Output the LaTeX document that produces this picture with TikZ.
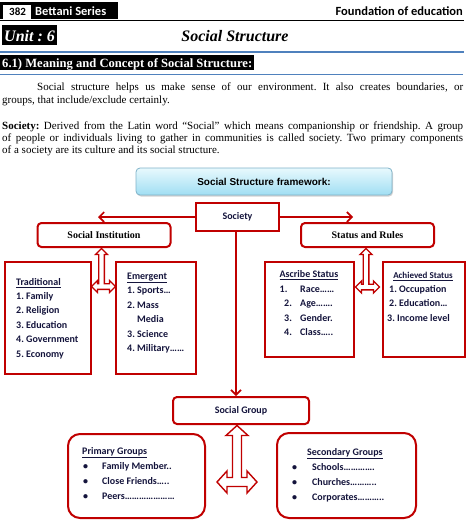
\documentclass[tikz,border=0pt]{standalone}
\usepackage{fontspec}
\setmainfont{Liberation Serif}
\newfontfamily\calib{Carlito}
\newfontfamily\arialf{Liberation Sans}
\usetikzlibrary{arrows.meta,shadows}
\definecolor{dred}{HTML}{C00000}
\definecolor{navy}{HTML}{14143C}
\definecolor{hblue}{HTML}{4F81BD}
\definecolor{fwborder}{HTML}{7FB2C8}
\definecolor{fwtop}{HTML}{E8F9FD}
\definecolor{fwbot}{HTML}{A0DEF3}
\frenchspacing
\newcommand\Tarrow[8]{% cx, ty, by, lx, rx, s, h, L
  \draw[tarrow] (#1,#2) -- ({#1+#7},{#2+#8}) -- ({#1+#6},{#2+#8}) -- ({#1+#6},{#3-#6})
   -- ({#5-#8},{#3-#6}) -- ({#5-#8},{#3-#7}) -- (#5,#3) -- ({#5-#8},{#3+#7}) -- ({#5-#8},{#3+#6})
   -- ({#4+#8},{#3+#6}) -- ({#4+#8},{#3+#7}) -- (#4,#3) -- ({#4+#8},{#3-#7}) -- ({#4+#8},{#3-#6})
   -- ({#1-#6},{#3-#6}) -- ({#1-#6},{#2+#8}) -- ({#1-#7},{#2+#8}) -- cycle;}
\begin{document}
\begin{tikzpicture}[x=1pt,y=-1pt,
  sqbox/.style={draw=dred, line width=2.6pt, inner sep=0pt},
  rbox/.style={draw=dred, line width=2pt, rounded corners=4pt, inner sep=0pt},
  txt/.style={font=\calib\bfseries\fontsize{10}{12}\selectfont, text=navy, inner sep=0pt, anchor=base west, yshift=-3.5pt},
  ctxt/.style={txt, anchor=base},
  para/.style={font=\fontsize{11}{12.5}\selectfont, inner sep=0pt, anchor=base west},
  conn/.style={draw=dred, line width=1.6pt, -{Straight Barb[length=5pt,width=10pt]}},
  tarrow/.style={draw=dred, line width=1.4pt, fill=white, line join=miter}]
\useasboundingbox (0,0) rectangle (471,522);
% header
\fill[black] (0,2) rectangle (118,19);
\fill[white] (3,4.5) rectangle (31,19);
\node[inner sep=0pt, anchor=base west, font=\calib\bfseries\fontsize{11}{12}\selectfont] (pg382) at (9,16) {382};
\node[inner sep=0pt, anchor=base west, text=white, font=\calib\bfseries\fontsize{12.5}{14}\selectfont] (bs) at (35,16) {Bettani Series};
\node[inner sep=0pt, anchor=base east, font=\calib\bfseries\fontsize{12.5}{14}\selectfont] (foe) at (463,16) {Foundation of education};
\draw[line width=0.8pt] (0,20.5) -- (464,20.5);
\fill[black] (2,25) rectangle (57,45);
\node[inner sep=0pt, anchor=base west, text=white, font=\bfseries\itshape\fontsize{16}{18}\selectfont] (unit) at (4,41) {Unit : 6};
\node[inner sep=0pt, anchor=base, font=\bfseries\itshape\fontsize{16}{18}\selectfont] (title) at (235,41) {Social Structure};
\draw[hblue, line width=2.5pt] (0,52) -- (464,52);
\fill[black] (0,55) rectangle (254,70);
\node[inner sep=0pt, anchor=base west, text=white, font=\bfseries\fontsize{12.6}{14}\selectfont] (sec61) at (2,67) {6.1) Meaning and Concept of Social Structure:};
\draw[hblue, line width=0.8pt] (0,74) -- (463,74);
% paragraphs
\node[para] (p1) at (37,90.5) {\hbox to 426pt{Social structure helps us make sense of our environment. It also creates boundaries, or}};
\node[para] (p2) at (2,103.5) {groups, that include/exclude certainly.};
\node[para] (p3) at (2,129.5) {\hbox to 461pt{\textbf{Society:} Derived from the Latin word “Social” which means companionship or friendship. A group}};
\node[para] (p4) at (2,141.5) {\hbox to 461pt{of people or individuals living to gather in communities is called society. Two primary components}};
\node[para] (p5) at (2,153.5) {of a society are its culture and its social structure.};
% framework title
\node[draw=fwborder, line width=0.8pt, rounded corners=4pt, top color=fwtop, bottom color=fwbot, drop shadow={shadow xshift=1pt, shadow yshift=-1.5pt, opacity=0.35}, minimum width=256pt, minimum height=27pt, inner sep=0pt, font=\arialf\bfseries\fontsize{10}{12}\selectfont] (fw) at (264,181.5) {Social Structure framework:};
% main boxes
\node[sqbox, minimum width=83pt, minimum height=28pt, font=\calib\bfseries\fontsize{10}{12}\selectfont, text=navy] (soc) at (237.5,217) {Society};
\node[rbox, minimum width=133pt, minimum height=24pt, font=\bfseries\fontsize{10}{12}\selectfont] (si) at (104,235) {Social Institution};
\node[rbox, minimum width=133pt, minimum height=24pt, font=\bfseries\fontsize{10}{12}\selectfont] (sr) at (367.5,235) {Status and Rules};
\node[sqbox, minimum width=86pt, minimum height=112pt] (trad) at (48,318) {};
\node[sqbox, minimum width=80pt, minimum height=112pt] (emer) at (156,318) {};
\node[sqbox, minimum width=89pt, minimum height=95pt] (asc) at (309.5,309.5) {};
\node[sqbox, minimum width=82pt, minimum height=95pt] (ach) at (424,309.5) {};
\node[rbox, minimum width=136pt, minimum height=27pt, font=\calib\bfseries\fontsize{10}{12}\selectfont, text=navy] (sg) at (241,410.5) {Social Group};
\node[rbox, rounded corners=12pt, minimum width=137pt, minimum height=84pt] (pg) at (136.5,476) {};
\node[rbox, rounded corners=12pt, minimum width=139pt, minimum height=85pt] (sgp) at (346.5,475.5) {};
% connectors
\coordinate (lend) at (98,217);
\coordinate (rend) at (353,217);
\draw[conn] (soc.west) -- (lend);
\draw[conn] (soc.east) -- (rend);
\draw[conn] ([xshift=-1.5pt]soc.south) -- ([xshift=-1.5pt]soc.south |- sg.north);
% T arrows
\Tarrow{101.5}{248.5}{286.5}{91.5}{115.5}{2.8}{6}{6}
\Tarrow{366}{248.5}{287}{355.5}{379.5}{2.8}{6}{6}
\Tarrow{237}{425.5}{482}{217}{257}{4.5}{11}{10}
% Traditional
\node[txt] (t0) at (16,282) {\underline{Traditional}};
\node[txt] (t1) at (16,296) {1. Family};
\node[txt] (t2) at (16,310) {2. Religion};
\node[txt] (t3) at (16,324.5) {3. Education};
\node[txt] (t4) at (16,339) {4. Government};
\node[txt] (t5) at (16,353.5) {5. Economy};
% Emergent
\node[txt] (e0) at (127,276) {\underline{Emergent}};
\node[txt] (e1) at (127,290) {1. Sports…};
\node[txt] (e2) at (127,305) {2. Mass};
\node[txt] (e3) at (137,319) {Media};
\node[txt] (e4) at (127,334) {3. Science};
\node[txt] (e5) at (127,348) {4. Military……};
% Ascribe
\node[ctxt] (a0) at (309,274) {\underline{Ascribe Status}};
\node[txt] (a1n) at (279.5,289) {1.};
\node[txt] (a1) at (300,289) {Race……};
\node[txt] (a2n) at (284,303) {2.};
\node[txt] (a2) at (300,303) {Age…….};
\node[txt] (a3n) at (284,318) {3.};
\node[txt] (a3) at (300,318) {Gender.};
\node[txt] (a4n) at (284,332) {4.};
\node[txt] (a4) at (300,332) {Class…..};
% Achieved
\node[ctxt, font=\calib\bfseries\fontsize{9}{11}\selectfont] (h0) at (423,275) {\underline{Achieved Status}};
\node[txt] (h1) at (389,289) {1. Occupation};
\node[txt] (h2) at (389,303) {2. Education…};
\node[txt] (h3) at (387,318) {3. Income level};
% Primary groups
\node[txt] (g0) at (82,451) {\underline{Primary Groups}};
\node[txt] (g1b) at (83,466) {\textbullet};
\node[txt] (g1) at (102,466) {Family Member..};
\node[txt] (g2b) at (83,481) {\textbullet};
\node[txt] (g2) at (102,481) {Close Friends…..};
\node[txt] (g3b) at (83,496) {\textbullet};
\node[txt] (g3) at (102,496) {Peers…………………};
% Secondary groups
\node[txt] (s0) at (307,452) {\underline{Secondary Groups}};
\node[txt] (s1b) at (292,467) {\textbullet};
\node[txt] (s1) at (312,467) {Schools………….};
\node[txt] (s2b) at (292,482) {\textbullet};
\node[txt] (s2) at (312,482) {Churches………..};
\node[txt] (s3b) at (292,497) {\textbullet};
\node[txt] (s3) at (312,497) {Corporates………..};
\end{tikzpicture}
\end{document}
